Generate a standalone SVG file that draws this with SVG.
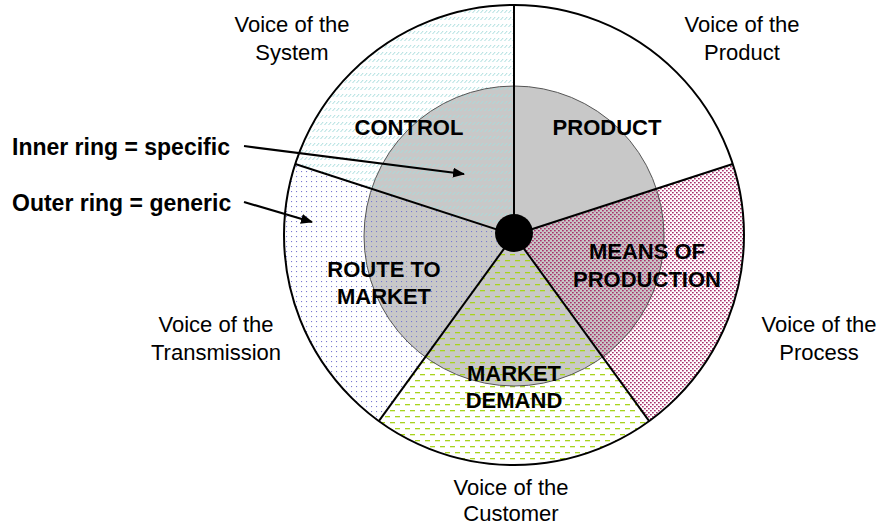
<svg xmlns="http://www.w3.org/2000/svg" width="880" height="527" viewBox="0 0 880 527">
<style>
.v{font-family:"Liberation Sans",Arial,sans-serif;font-size:22px;fill:#000;text-anchor:middle}
.b{font-family:"Liberation Sans",Arial,sans-serif;font-size:22px;font-weight:bold;fill:#000;text-anchor:middle}
.l{font-family:"Liberation Sans",Arial,sans-serif;font-size:23px;font-weight:bold;fill:#000}
.spoke{stroke:#000;stroke-width:2;fill:none}
.arrow{stroke:#000;stroke-width:2.2;fill:none;marker-end:url(#ah)}
</style>
<defs>
<pattern id="pCyan" patternUnits="userSpaceOnUse" width="4" height="7">
<line x1="0.5" y1="6" x2="3.2" y2="3" stroke="#a6dcdc" stroke-width="1"/>
</pattern>
<pattern id="pBlue" patternUnits="userSpaceOnUse" width="5" height="5">
<rect x="1" y="1" width="1.1" height="1.1" fill="#7a7ad0"/>
</pattern>
<pattern id="pMag" patternUnits="userSpaceOnUse" width="4" height="4">
<rect x="0" y="0" width="1.7" height="1.4" fill="#a8306a"/>
<rect x="2" y="2" width="1.7" height="1.4" fill="#a8306a"/>
</pattern>
<pattern id="pGreen" patternUnits="userSpaceOnUse" width="10" height="12">
<rect x="0" y="2" width="5" height="1.3" fill="#a8d41c"/>
<rect x="5" y="8" width="5" height="1.3" fill="#a8d41c"/>
</pattern>
<marker id="ah" markerWidth="12" markerHeight="10" refX="11" refY="5" orient="auto" markerUnits="userSpaceOnUse">
<path d="M0,0 L12,5 L0,10 Z" fill="#000"/>
</marker>
</defs>
<g id="wheel">
<circle cx="514" cy="235" r="230" fill="#fff"/>
<circle cx="514" cy="236" r="150" fill="#c8c8c8"/>
<path id="sector-system" d="M514,235 L514,5 A230,230 0 0 0 295.26,163.93 Z" fill="url(#pCyan)"/>
<path id="sector-transmission" d="M514,235 L295.26,163.93 A230,230 0 0 0 378.81,421.07 Z" fill="url(#pBlue)"/>
<path id="sector-customer" d="M514,235 L378.81,421.07 A230,230 0 0 0 649.19,421.07 Z" fill="url(#pGreen)"/>
<path id="sector-process" d="M514,235 L649.19,421.07 A230,230 0 0 0 732.74,163.93 Z" fill="url(#pMag)"/>
<circle cx="514" cy="236" r="150" fill="none" stroke="#555" stroke-width="1"/>
<circle cx="514" cy="235" r="230" fill="none" stroke="#000" stroke-width="2"/>
</g>
<g id="connectors">
<line class="spoke" x1="514" y1="235" x2="514" y2="5"/>
<line class="spoke" x1="514" y1="235" x2="295.26" y2="163.93"/>
<line class="spoke" x1="514" y1="235" x2="378.81" y2="421.07"/>
<line class="spoke" x1="514" y1="235" x2="649.19" y2="421.07"/>
<line class="spoke" x1="514" y1="235" x2="732.74" y2="163.93"/>
<line class="arrow" x1="244" y1="146" x2="464" y2="174"/>
<line class="arrow" x1="244" y1="202" x2="312" y2="222"/>
</g>
<g id="hub"><circle cx="514" cy="233" r="19" fill="#000"/></g>
<g id="node-control"><text class="b" x="409" y="135">CONTROL</text></g>
<g id="node-product"><text class="b" x="607" y="135">PRODUCT</text></g>
<g id="node-means"><text class="b" x="647" y="259">MEANS OF</text><text class="b" x="647" y="287">PRODUCTION</text></g>
<g id="node-route"><text class="b" x="384" y="277">ROUTE TO</text><text class="b" x="384" y="304">MARKET</text></g>
<g id="node-demand"><text class="b" x="514" y="381">MARKET</text><text class="b" x="514" y="408">DEMAND</text></g>
<g id="label-system"><text class="v" x="292" y="32">Voice of the</text><text class="v" x="292" y="60">System</text></g>
<g id="label-product"><text class="v" x="742" y="32">Voice of the</text><text class="v" x="742" y="60">Product</text></g>
<g id="label-process"><text class="v" x="819" y="332">Voice of the</text><text class="v" x="819" y="360">Process</text></g>
<g id="label-transmission"><text class="v" x="216" y="332">Voice of the</text><text class="v" x="216" y="360">Transmission</text></g>
<g id="label-customer"><text class="v" x="511" y="495">Voice of the</text><text class="v" x="511" y="521">Customer</text></g>
<g id="legend-inner"><text class="l" x="12" y="155">Inner ring = specific</text></g>
<g id="legend-outer"><text class="l" x="12" y="211">Outer ring = generic</text></g>
</svg>
